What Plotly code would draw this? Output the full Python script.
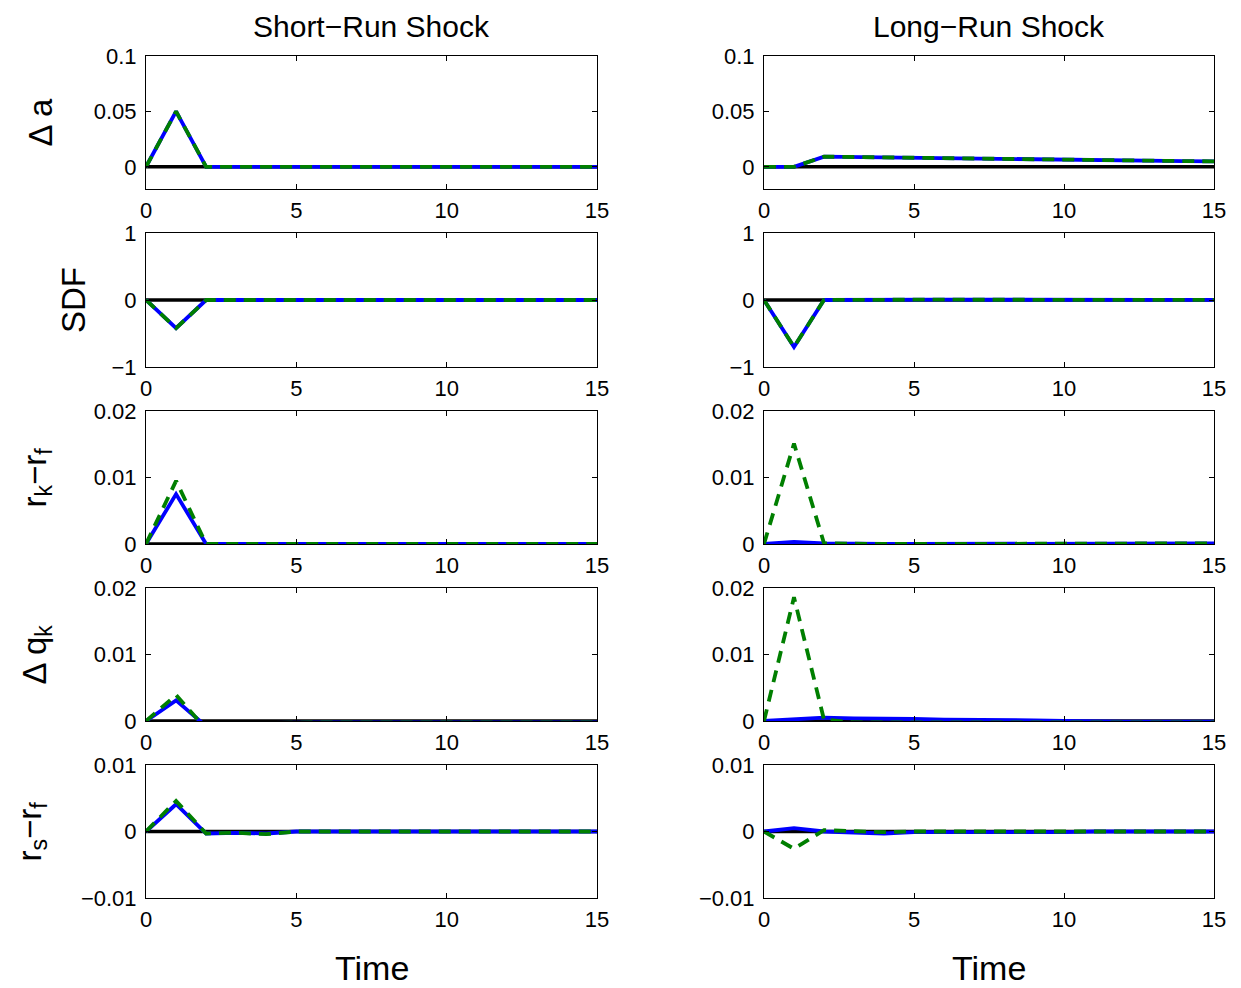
import plotly.graph_objects as go

t = list(range(16))

# Short-run shock responses
da_sr_blue = [0, 0.05, 0, 0, 0, 0, 0, 0, 0, 0, 0, 0, 0, 0, 0, 0]
da_sr_green = [0, 0.05, 0, 0, 0, 0, 0, 0, 0, 0, 0, 0, 0, 0, 0, 0]
sdf_sr_blue = [0, -0.42, 0, 0, 0, 0, 0, 0, 0, 0, 0, 0, 0, 0, 0, 0]
sdf_sr_green = [0, -0.42, 0, 0, 0, 0, 0, 0, 0, 0, 0, 0, 0, 0, 0, 0]
rkrf_sr_blue = [0, 0.0075, 0, 0, 0, 0, 0, 0, 0, 0, 0, 0, 0, 0, 0, 0]
rkrf_sr_green = [0, 0.0095, 0, 0, 0, 0, 0, 0, 0, 0, 0, 0, 0, 0, 0, 0]
dqk_sr_blue = [0, 0.0031, -0.0008, -0.0003, -0.0003, -0.0002, -0.0002, -0.0002, -0.0002, -0.0002, -0.0002, -0.0002, -0.0002, -0.0002, -0.0002, -0.0002]
dqk_sr_green = [0, 0.0039, -0.0012, -0.0003, -0.0003, -0.0002, -0.0002, -0.0002, -0.0002, -0.0002, -0.0002, -0.0002, -0.0002, -0.0002, -0.0002, -0.0002]
rsrf_sr_blue = [0, 0.0041, -0.0003, -0.0002, -0.0003, 0, 0, 0, 0, 0, 0, 0, 0, 0, 0, 0]
rsrf_sr_green = [0, 0.0046, -0.0003, -0.0002, -0.0004, 0, 0, 0, 0, 0, 0, 0, 0, 0, 0, 0]

# Long-run shock responses
da_lr_blue = [0, 0, 0.0092, 0.0088, 0.0085, 0.0081, 0.0078, 0.0074, 0.0071, 0.0068, 0.0064, 0.0061, 0.0058, 0.0055, 0.0052, 0.0049]
da_lr_green = [0, 0, 0.0092, 0.0088, 0.0085, 0.0081, 0.0078, 0.0074, 0.0071, 0.0068, 0.0064, 0.0061, 0.0058, 0.0055, 0.0052, 0.0049]
sdf_lr_blue = [0, -0.70, 0, 0.004, 0.006, 0.01, 0.006, 0.004, 0.006, 0.004, 0.003, 0.002, 0.003, 0.002, 0.001, 0.001]
sdf_lr_green = [0, -0.70, 0, 0.004, 0.006, 0.01, 0.006, 0.004, 0.006, 0.004, 0.003, 0.002, 0.003, 0.002, 0.001, 0.001]
rkrf_lr_blue = [0, 0.0003, 0.0001, 0, 0, 0, 0, 0, 0, 0, 0, 0, 0, 0, 0, 0.0001]
rkrf_lr_green = [0, 0.0151, 0.0001, 0, 0, 0, 0, 0, 0, 0, 0, 0, 0, 0, 0, 0.0001]
dqk_lr_blue = [0, 0.0003, 0.0005, 0.0004, 0.0004, 0.0003, 0.0002, 0.0002, 0.0001, 0.0001, 0, -0.0001, -0.0001, -0.0001, -0.0001, -0.0001]
dqk_lr_green = [0, 0.0186, 0.0002, -0.0002, -0.0002, -0.0002, -0.0002, -0.0002, -0.0002, -0.0002, -0.0002, -0.0002, -0.0002, -0.0002, -0.0002, -0.0002]
rsrf_lr_blue = [0, 0.0005, 0, -0.0001, -0.0003, -0.0001, -0.0001, -0.0001, -0.0001, -0.0002, -0.0001, 0, 0, 0, 0, 0]
rsrf_lr_green = [0, -0.0026, 0.0002, 0.0001, -0.0001, 0, 0, 0, -0.0001, -0.0001, -0.0001, 0, 0, 0, 0, 0]

zero_line = [0] * 16

row_labels = ["Δ a", "SDF", "r<sub>k</sub>−r<sub>f</sub>", "Δ q<sub>k</sub>", "r<sub>s</sub>−r<sub>f</sub>"]
col_titles = ["Short−Run Shock", "Long−Run Shock"]
y_ranges = [[-0.02, 0.1], [-1, 1], [0, 0.02], [0, 0.02], [-0.01, 0.01]]
y_tickvals = [[0, 0.05, 0.1], [-1, 0, 1], [0, 0.01, 0.02], [0, 0.01, 0.02], [-0.01, 0, 0.01]]
y_ticktext = [["0", "0.05", "0.1"], ["−1", "0", "1"], ["0", "0.01", "0.02"], ["0", "0.01", "0.02"], ["−0.01", "0", "0.01"]]
x_tickvals = [0, 5, 10, 15]
x_ticktext = ["0", "5", "10", "15"]

series = [
    [(da_sr_blue, da_sr_green), (da_lr_blue, da_lr_green)],
    [(sdf_sr_blue, sdf_sr_green), (sdf_lr_blue, sdf_lr_green)],
    [(rkrf_sr_blue, rkrf_sr_green), (rkrf_lr_blue, rkrf_lr_green)],
    [(dqk_sr_blue, dqk_sr_green), (dqk_lr_blue, dqk_lr_green)],
    [(rsrf_sr_blue, rsrf_sr_green), (rsrf_lr_blue, rsrf_lr_green)],
]

OFF = 8  # page body margin offset
W, H = 1233, 980
col_px = [(146, 597), (764, 1214)]
row_px = [(56, 189), (233, 367), (411, 544), (588, 721), (765, 898)]


def px_x(p):
    return (p - OFF) / W


def px_y(p):
    return 1 - (p - OFF) / H


fig = go.Figure()
font_family = "Liberation Sans, Arial, Helvetica, sans-serif"
layout = dict(
    width=W, height=H, autosize=False,
    margin=dict(l=0, r=0, t=0, b=0, pad=0),
    paper_bgcolor="white", plot_bgcolor="white",
    showlegend=False,
    font=dict(family=font_family, color="black", size=22),
)

idx = 0
for r in range(5):
    for c in range(2):
        idx += 1
        xa = "x" if idx == 1 else f"x{idx}"
        ya = "y" if idx == 1 else f"y{idx}"
        blue, green = series[r][c]
        fig.add_trace(go.Scatter(x=t, y=zero_line, mode="lines", line=dict(color="black", width=3.5), xaxis=xa, yaxis=ya))
        fig.add_trace(go.Scatter(x=t, y=blue, mode="lines", line=dict(color="#0000ff", width=3.8), xaxis=xa, yaxis=ya))
        fig.add_trace(go.Scatter(x=t, y=green, mode="lines", line=dict(color="#007f00", width=3.8, dash="12px,8px"), xaxis=xa, yaxis=ya))
        x0, x1 = col_px[c]
        y0, y1 = row_px[r]
        axcommon = dict(showgrid=False, zeroline=False, showline=True, linecolor="black", linewidth=1,
                        mirror="ticks", ticks="inside", ticklen=5, tickcolor="black", automargin=False,
                        tickfont=dict(size=22, family=font_family, color="black"))
        layout["xaxis" if idx == 1 else f"xaxis{idx}"] = dict(
            domain=[px_x(x0), px_x(x1)], range=[0, 15], anchor=ya,
            tickvals=x_tickvals, ticktext=x_ticktext, ticklabelstandoff=2, **axcommon)
        layout["yaxis" if idx == 1 else f"yaxis{idx}"] = dict(
            domain=[px_y(y1), px_y(y0)], range=y_ranges[r], anchor=xa,
            tickvals=y_tickvals[r], ticktext=y_ticktext[r], ticklabelstandoff=4, **axcommon)

fig.update_layout(**layout)

annotations = []
for c in range(2):
    cx = px_x((col_px[c][0] + col_px[c][1]) / 2)
    annotations.append(dict(text=col_titles[c], x=cx, y=px_y(8), xref="paper", yref="paper",
                            xanchor="center", yanchor="top",
                            showarrow=False, font=dict(size=30, family=font_family, color="black")))
    annotations.append(dict(text="Time", x=cx, y=px_y(968), xref="paper", yref="paper",
                            xanchor="center", yanchor="middle",
                            showarrow=False, font=dict(size=34, family=font_family, color="black")))

label_x = [40, 73, 36, 36, 31]
for r in range(5):
    cy = px_y((row_px[r][0] + row_px[r][1]) / 2)
    annotations.append(dict(text=row_labels[r], x=px_x(label_x[r]), y=cy, xref="paper", yref="paper",
                            xanchor="center", yanchor="middle",
                            showarrow=False, textangle=-90,
                            font=dict(size=33, family=font_family, color="black")))
fig.update_layout(annotations=annotations)

fig.write_html("out.html")
